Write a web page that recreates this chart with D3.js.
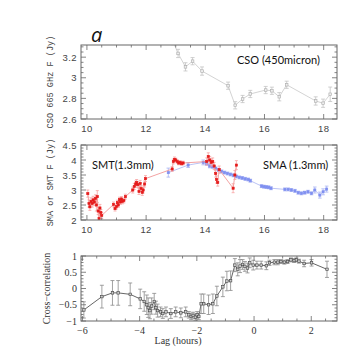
<!DOCTYPE html>
<html>
<head>
<meta charset="utf-8">
<title>light curves and cross-correlation</title>
<script src="https://cdn.jsdelivr.net/npm/d3@7"></script>
<style type="text/css">
body { margin: 0; background: #fff; }
svg { display: block; }
.tick-label { font-family: "Liberation Sans", sans-serif; font-size: 9.5px; fill: #444; letter-spacing: 0.4px; }
.tick-label-serif { font-family: "Liberation Serif", serif; font-size: 10px; fill: #333; }
.axis-title-mono { font-family: "Liberation Mono", monospace; font-size: 8.6px; fill: #444; }
.axis-title-serif { font-family: "Liberation Serif", serif; font-size: 10px; fill: #333; }
.note { font-family: "Lato", "Open Sans", sans-serif; font-size: 11px; fill: #111; }
</style>
</head>
<body>
<div id="chart"></div>

<script type="text/javascript">
// CSO 665 GHz (450 micron) light curve: hours, flux (Jy), error
var csoHours = [12.9, 13.08, 13.33, 13.57, 13.89, 14.77, 15.01, 15.26, 15.52, 16.04, 16.25, 16.50, 16.75, 17.73, 17.98, 18.22];
var csoFlux  = [3.36, 3.236, 3.106, 3.161, 3.065, 2.923, 2.733, 2.794, 2.843, 2.881, 2.874, 2.816, 2.932, 2.775, 2.753, 2.840];
var csoErr   = [0.04, 0.04, 0.04, 0.035, 0.04, 0.035, 0.035, 0.035, 0.035, 0.035, 0.035, 0.04, 0.035, 0.04, 0.04, 0.07];

// SMT 1.3 mm light curve
var smtHours = [10.03, 10.07, 10.10, 10.14, 10.18, 10.21, 10.25, 10.29, 10.32, 10.35, 10.38, 10.41, 10.44, 10.47, 10.50,
                10.90, 10.95, 11.00, 11.03, 11.06, 11.10, 11.13, 11.17, 11.20, 11.25, 11.30,
                11.55, 11.60, 11.65, 11.68, 11.72, 11.76, 11.80, 11.83, 11.87, 11.90, 11.95, 11.98,
                12.88, 12.92, 12.96, 13.00, 13.05, 13.10, 13.15, 13.20, 13.25,
                14.05, 14.10, 14.15, 14.20, 14.25, 14.30, 14.35, 14.38, 14.42, 14.47,
                14.94, 15.00, 15.05];
var smtFlux  = [2.88, 2.55, 2.44, 2.62, 2.55, 2.67, 2.60, 2.72, 2.50, 2.78, 2.30, 2.05, 2.40, 2.25, 2.15,
                2.52, 2.38, 2.45, 2.58, 2.50, 2.68, 2.60, 2.70, 2.62, 2.65, 2.78,
                3.00, 3.12, 3.20, 3.25, 3.18, 2.95, 3.22, 3.05, 2.92, 3.00, 3.20, 3.38,
                3.70, 3.95, 4.02, 4.00, 3.95, 3.90, 3.92, 3.88, 3.90,
                3.95, 4.12, 4.00, 3.92, 3.95, 3.80, 3.55, 3.35, 3.25, 3.68,
                3.06, 3.50, 3.83];
var smtErr   = [0.12, 0.12, 0.12, 0.12, 0.12, 0.12, 0.12, 0.12, 0.2, 0.2, 0.12, 0.12, 0.12, 0.1, 0.1,
                0.08, 0.08, 0.08, 0.08, 0.08, 0.08, 0.08, 0.08, 0.08, 0.08, 0.08,
                0.1, 0.1, 0.1, 0.1, 0.1, 0.1, 0.1, 0.1, 0.1, 0.1, 0.1, 0.1,
                0.08, 0.08, 0.08, 0.06, 0.06, 0.06, 0.06, 0.06, 0.06,
                0.12, 0.12, 0.12, 0.12, 0.12, 0.12, 0.12, 0.12, 0.12, 0.12,
                0.15, 0.15, 0.15];

// SMA 1.3 mm light curve
var smaHours = [12.75, 13.42, 13.93, 14.05, 14.15, 14.25, 14.35, 14.45, 14.55, 14.65, 14.75, 14.85, 14.95, 15.05, 15.15,
                15.25, 15.35, 15.45, 15.52,
                15.90, 15.98, 16.06, 16.14, 16.22,
                16.69, 16.80, 16.91, 17.03, 17.14, 17.25, 17.36, 17.47, 17.59, 17.70, 17.87, 17.98, 18.10];
var smaFlux  = [3.58, 3.83, 3.92, 3.88, 3.80, 3.78, 3.72, 3.67, 3.62, 3.58, 3.55, 3.52, 3.49, 3.45, 3.42,
                3.40, 3.37, 3.35, 3.31,
                3.13, 3.11, 3.10, 3.09, 3.06,
                3.02, 3.02, 3.00, 2.97, 2.91, 2.89, 2.91, 2.94, 2.89, 3.00, 2.83, 2.94, 3.03];
var smaErr   = [0.15, 0.08, 0.08, 0.06, 0.06, 0.06, 0.05, 0.05, 0.05, 0.05, 0.05, 0.05, 0.05, 0.05, 0.05,
                0.05, 0.05, 0.05, 0.05,
                0.05, 0.05, 0.05, 0.05, 0.05,
                0.05, 0.05, 0.05, 0.05, 0.05, 0.05, 0.05, 0.05, 0.05, 0.1, 0.1, 0.1, 0.1];

// cross-correlation vs lag
var ccLag  = [-5.95, -5.32, -4.95, -4.75, -4.33, -3.98, -3.84, -3.75, -3.70, -3.64, -3.58, -3.49, -3.43, -3.37, -3.27, -3.19, -3.08,
              -2.91, -2.74, -2.56, -2.39, -2.28, -2.20, -2.13, -2.05, -1.99, -1.93, -1.85, -1.76, -1.59, -1.44, -1.30, -1.09,
              -0.95, -0.82, -0.67, -0.57, -0.49, -0.40, -0.32, -0.23, -0.15, -0.03, 0.10, 0.25, 0.43, 0.54, 0.71, 0.83,
              0.94, 1.06, 1.17, 1.29, 1.40, 1.48, 1.57, 1.75, 2.01, 2.55];
var ccVal  = [-0.66, -0.25, -0.135, -0.135, -0.18, -0.32, -0.40, -0.50, -0.59, -0.68, -0.54, -0.40, -0.59, -0.68, -0.72, -0.77, -0.72,
              -0.77, -0.72, -0.75, -0.72, -0.81, -0.86, -0.83, -0.88, -0.81, -0.86, -0.47, -0.47, -0.50, -0.47, -0.23, 0.05,
              0.23, 0.24, 0.72, 0.59, 0.69, 0.74, 0.68, 0.63, 0.79, 0.72, 0.72, 0.72, 0.70, 0.79, 0.81, 0.81,
              0.83, 0.81, 0.83, 0.88, 0.86, 0.88, 0.84, 0.77, 0.79, 0.59];
var ccErr  = [0.25, 0.35, 0.38, 0.38, 0.35, 0.3, 0.3, 0.3, 0.3, 0.25, 0.25, 0.25, 0.2, 0.2, 0.15, 0.15, 0.15,
              0.15, 0.15, 0.15, 0.15, 0.1, 0.1, 0.1, 0.1, 0.1, 0.1, 0.3, 0.3, 0.3, 0.3, 0.3, 0.3,
              0.3, 0.3, 0.2, 0.2, 0.2, 0.15, 0.15, 0.15, 0.15, 0.15, 0.12, 0.12, 0.12, 0.08, 0.08, 0.08,
              0.06, 0.06, 0.06, 0.06, 0.06, 0.06, 0.06, 0.1, 0.1, 0.25];

// tick labels
var hourTicks = [10, 12, 14, 16, 18];
var csoTicks = [2.6, 2.8, 3, 3.2];
var fluxTicks = [2, 2.5, 3, 3.5, 4, 4.5];
var lagTicks = [-6, -4, -2, 0, 2];
var ccTicks = [-1, -0.5, 0, 0.5, 1];

function zip(xs, ys, es) {
    return xs.map(function(x, i) { return { x: x, y: ys[i], e: es[i] }; });
}

var width = 340, height = 349;
var left = 81, right = 337;

var svg = d3.select('#chart').append('svg')
    .attr('width', width)
    .attr('height', height);

svg.append('rect').attr('width', width).attr('height', height).attr('fill', '#fff');

// draws frame with inward ticks on all four sides
function frame(g, x, y, xMajor, xMinorStep, yMajor, yMinorStep, serif, fmt) {
    var x0 = x.range()[0], x1 = x.range()[1];
    var y0 = y.range()[0], y1 = y.range()[1];
    var col = '#666';

    var xd = x.domain(), yd = y.domain();
    var xMinor = d3.range(Math.ceil(xd[0] / xMinorStep) * xMinorStep, xd[1] + 1e-9, xMinorStep);
    var yMinor = d3.range(Math.ceil(yd[0] / yMinorStep - 1e-9) * yMinorStep, yd[1] + 1e-9, yMinorStep);

    var ticks = g.append('g').attr('stroke', col).attr('stroke-width', 0.8);
    xMinor.forEach(function(v) {
        var isMajor = xMajor.some(function(m) { return Math.abs(m - v) < 1e-6; });
        var len = isMajor ? 5 : 2.5;
        ticks.append('line').attr('x1', x(v)).attr('x2', x(v)).attr('y1', y0).attr('y2', y0 - len);
        ticks.append('line').attr('x1', x(v)).attr('x2', x(v)).attr('y1', y1).attr('y2', y1 + len);
    });
    yMinor.forEach(function(v) {
        var isMajor = yMajor.some(function(m) { return Math.abs(m - v) < 1e-6; });
        var len = isMajor ? 5 : 2.5;
        ticks.append('line').attr('y1', y(v)).attr('y2', y(v)).attr('x1', x0).attr('x2', x0 + len);
        ticks.append('line').attr('y1', y(v)).attr('y2', y(v)).attr('x1', x1).attr('x2', x1 - len);
    });

    g.append('rect')
        .attr('x', x0).attr('y', y1)
        .attr('width', x1 - x0).attr('height', y0 - y1)
        .attr('fill', 'none').attr('stroke', col).attr('stroke-width', 1);

    var cls = serif ? 'tick-label-serif' : 'tick-label';
    g.selectAll('text.xl').data(xMajor).enter().append('text')
        .attr('class', cls)
        .attr('x', function(d) { return x(d); })
        .attr('y', y0 + 13)
        .attr('text-anchor', 'middle')
        .text(function(d) { return fmt(d); });
    g.selectAll('text.yl').data(yMajor).enter().append('text')
        .attr('class', cls)
        .attr('x', x0 - 4)
        .attr('y', function(d) { return y(d) + 3.5; })
        .attr('text-anchor', 'end')
        .text(function(d) { return fmt(d); });
}

function fmtNum(d) {
    return (d < 0 ? '\u2212' : '') + String(Math.abs(d));
}

// draws connecting line, error bars and markers
function series(g, data, x, y, opt) {
    var line = d3.line().x(function(d) { return x(d.x); }).y(function(d) { return y(d.y); });
    g.append('path').datum(data)
        .attr('d', line)
        .attr('fill', 'none')
        .attr('stroke', opt.line)
        .attr('stroke-width', opt.lineWidth || 0.8);

    var eb = g.append('g').attr('stroke', opt.err).attr('stroke-width', opt.errWidth || 0.8);
    data.forEach(function(d) {
        var cx = x(d.x);
        eb.append('line').attr('x1', cx).attr('x2', cx).attr('y1', y(d.y - d.e)).attr('y2', y(d.y + d.e));
        eb.append('line').attr('x1', cx - opt.cap).attr('x2', cx + opt.cap).attr('y1', y(d.y - d.e)).attr('y2', y(d.y - d.e));
        eb.append('line').attr('x1', cx - opt.cap).attr('x2', cx + opt.cap).attr('y1', y(d.y + d.e)).attr('y2', y(d.y + d.e));
    });

    g.selectAll('rect.pt').data(data).enter().append('rect')
        .attr('x', function(d) { return x(d.x) - opt.size / 2; })
        .attr('y', function(d) { return y(d.y) - opt.size / 2; })
        .attr('width', opt.size).attr('height', opt.size)
        .attr('fill', opt.fill)
        .attr('stroke', opt.stroke)
        .attr('stroke-width', 0.6);
}

function clip(id, x, y) {
    svg.append('clipPath').attr('id', id).append('rect')
        .attr('x', x.range()[0]).attr('y', y.range()[1])
        .attr('width', x.range()[1] - x.range()[0])
        .attr('height', y.range()[0] - y.range()[1]);
    return 'url(#' + id + ')';
}

// ---- panel 1: CSO ----
var x1 = d3.scaleLinear().domain([9.8, 18.45]).range([left, right]);
var y1 = d3.scaleLinear().domain([2.6, 3.318]).range([119, 45]);
var p1 = svg.append('g');
series(p1.append('g').attr('clip-path', clip('c1', x1, y1)), zip(csoHours, csoFlux, csoErr), x1, y1,
    { line: '#c8c8c8', err: '#c4c4c4', fill: '#eee', stroke: '#aaa', size: 2.6, cap: 2 });
frame(p1, x1, y1, hourTicks, 0.5, csoTicks, 0.05, false, fmtNum);

p1.append('text').attr('class', 'axis-title-mono')
    .attr('transform', 'translate(53,' + ((45 + 119) / 2) + ') rotate(-90)')
    .attr('text-anchor', 'middle')
    .text('CSO 665 GHz F (Jy)');
p1.append('text').attr('class', 'note').attr('x', 237).attr('y', 64).text('CSO (450micron)');
svg.append('text')
    .attr('x', 91).attr('y', 42)
    .attr('font-family', '"Open Sans", sans-serif')
    .attr('font-style', 'italic')
    .attr('font-size', '20px')
    .attr('fill', '#111')
    .text('a');

// ---- panel 2: SMT / SMA ----
var x2 = d3.scaleLinear().domain([9.8, 18.45]).range([left, right]);
var y2 = d3.scaleLinear().domain([2, 4.5]).range([220, 145]);
var p2 = svg.append('g');
var c2 = clip('c2', x2, y2);
series(p2.append('g').attr('clip-path', c2), zip(smaHours, smaFlux, smaErr), x2, y2,
    { line: '#a9b4f2', err: '#aab4f4', fill: '#7f8ff0', stroke: '#7f8ff0', size: 2.2, cap: 1.8 });
series(p2.append('g').attr('clip-path', c2), zip(smtHours, smtFlux, smtErr), x2, y2,
    { line: '#f08a8a', err: '#f7a3a3', fill: '#e41a1a', stroke: '#e41a1a', size: 2.2, cap: 1.5 });
frame(p2, x2, y2, hourTicks, 0.5, fluxTicks, 0.1, false, fmtNum);

p2.append('text').attr('class', 'axis-title-mono')
    .attr('transform', 'translate(53,' + ((145 + 220) / 2) + ') rotate(-90)')
    .attr('text-anchor', 'middle')
    .text('SMA or SMT F (Jy)');
p2.append('text').attr('class', 'note').attr('x', 92).attr('y', 169).text('SMT(1.3mm)');
p2.append('text').attr('class', 'note').attr('x', 263).attr('y', 169).text('SMA (1.3mm)');

// ---- panel 3: cross-correlation ----
var x3 = d3.scaleLinear().domain([-6.05, 2.9]).range([left, right]);
var y3 = d3.scaleLinear().domain([-1, 1]).range([321, 256]);
var p3 = svg.append('g');
series(p3.append('g').attr('clip-path', clip('c3', x3, y3)), zip(ccLag, ccVal, ccErr), x3, y3,
    { line: '#555', err: '#8a8a8a', fill: '#ccc', stroke: '#444', size: 2.5, cap: 2, lineWidth: 0.9 });
frame(p3, x3, y3, lagTicks, 0.5, ccTicks, 0.1, true, fmtNum);

p3.append('text').attr('class', 'axis-title-serif')
    .attr('transform', 'translate(50,' + ((256 + 321) / 2) + ') rotate(-90)')
    .attr('text-anchor', 'middle')
    .text('Cross\u2212correlation');
p3.append('text').attr('class', 'axis-title-serif')
    .attr('x', 178).attr('y', 344)
    .attr('text-anchor', 'middle')
    .text('Lag (hours)');
</script>
</body>
</html>
